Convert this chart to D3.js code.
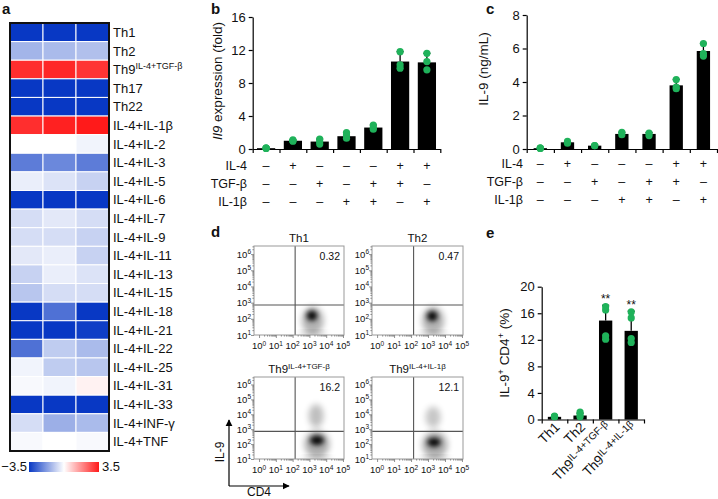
<!DOCTYPE html>
<html><head><meta charset="utf-8">
<script src="https://cdn.jsdelivr.net/npm/d3@7"></script>
<style>
body{margin:0;background:#fff}
svg{display:block}
text{font-family:"Liberation Sans",Arial,Helvetica,sans-serif;fill:#111}
</style>
</head><body>
<svg id="chart" width="718" height="499"></svg>
<script>
// ---------------- DATA ----------------
// Panel a: heatmap (3 replicates, z-score)
const heatRows = ["Th1","Th2","Th9^IL-4+TGF-β","Th17","Th22","IL-4+IL-1β","IL-4+IL-2","IL-4+IL-3","IL-4+IL-5","IL-4+IL-6","IL-4+IL-7","IL-4+IL-9","IL-4+IL-11","IL-4+IL-13","IL-4+IL-15","IL-4+IL-18","IL-4+IL-21","IL-4+IL-22","IL-4+IL-25","IL-4+IL-31","IL-4+IL-33","IL-4+INF-γ","IL-4+TNF"];
const heatRep1 = [-3.5,-1.3,3.2,-3.5,-3.5,3.2,0.0,-2.3,-0.3,-3.5,-0.6,-0.6,-0.4,-0.8,-1.0,-3.5,-3.5,-2.5,-0.2,-0.1,-3.5,-0.6,-0.1];
const heatRep2 = [-3.5,-1.2,3.3,-3.5,-3.5,3.4,0.0,-2.1,-0.5,-3.5,-0.4,-0.6,-0.3,-0.3,-0.6,-2.5,-3.5,-0.9,-0.9,-0.2,-3.5,-1.4,0.0];
const heatRep3 = [-3.5,-1.1,3.1,-3.5,-3.5,3.5,-0.2,-2.3,-0.8,-3.5,-0.6,-0.8,-0.8,-0.5,-0.6,-3.5,-3.4,-1.2,-1.0,0.2,-3.5,-1.2,-0.1];
const heatRange = [-3.5, 3.5];

// Panels b, c: culture conditions
const condNames = ["IL-4","TGF-β","IL-1β"];
const condIL4  = [0,1,0,0,0,1,1];
const condTGFb = [0,0,1,0,1,1,0];
const condIL1b = [0,0,0,1,1,0,1];

// Panel b: Il9 expression (fold)
const il9Mean = [0.1,1.0,0.9,1.55,2.6,10.6,10.5];
const il9SD   = [0.02,0.1,0.3,0.45,0.3,1.2,1.1];
const il9Pts  = [[0.1,0.1,0.1],[0.95,1.0,1.1],[0.6,0.9,1.2],[1.3,1.7,2.0],[2.4,2.6,2.9],[9.8,10.2,11.8],[9.6,10.6,11.6]];
const il9Ticks = [0,4,8,12,16];

// Panel c: IL-9 (ng/mL)
const protMean = [0.05,0.4,0.2,0.9,0.9,3.8,5.85];
const protSD   = [0.01,0.05,0.05,0.1,0.08,0.35,0.45];
const protPts  = [[0.05,0.05,0.05],[0.35,0.45],[0.2,0.2],[0.85,1.0],[0.8,0.95],[3.6,3.7,4.15],[5.55,5.7,6.3]];
const protTicks = [0,2,4,6,8];

// Panel d: flow cytometry
const flowTitles = ["Th1","Th2","Th9^IL-4+TGF-β","Th9^IL-4+IL-1β"];
const flowPct = ["0.32","0.47","16.2","12.1"];
const gateCD4 = 2.15, gateIL9 = 2.85; // log10
const flowDecadesX = [0,1,2,3,4,5];
const flowDecadesY = [1,2,3,4,5,6];
// density components: plot index, log10 CD4, log10 IL-9, spread CD4, spread IL-9, density
const blobPlot   = [0,0,0, 1,1,1, 2,2,2,2, 3,3,3,3];
const blobCD4    = [3.2,3.2,3.15, 3.3,3.3,3.25, 3.45,3.45,3.4,3.45, 3.4,3.4,3.3,3.35];
const blobIL9    = [1.9,1.08,2.2, 1.9,1.08,2.17, 2.0,1.08,3.9,2.25, 1.95,1.08,3.8,2.12];
const blobSprX   = [0.65,0.85,0.32, 0.65,0.85,0.32, 0.75,0.9,0.45,0.42, 0.75,0.9,0.45,0.4];
const blobSprY   = [0.85,0.12,0.32, 0.85,0.12,0.32, 0.9,0.12,0.78,0.33, 0.9,0.12,0.72,0.31];
const blobDens   = [0.3,0.25,0.95, 0.3,0.25,0.95, 0.32,0.25,0.25,0.95, 0.32,0.25,0.22,0.95];

// Panel e: IL-9+ CD4+ (%)
const pctGroups = ["Th1","Th2","Th9^IL-4+TGF-β","Th9^IL-4+IL-1β"];
const pctMean = [0.4,0.6,14.9,13.35];
const pctSD   = [0.1,0.35,2.3,2.95];
const pctPts  = [[0.4,0.5,0.45],[0.4,0.7,1.1],[12.1,12.6,16.5,17.0],[11.6,12.2,15.3,16.2]];
const pctSig  = ["","","**","**"];
const pctTicks = [0,4,8,12,16,20];

// ---------------- DRAWING ----------------
const svg = d3.select("#chart");
const GREEN = "#1fb25a";

function rich(textSel, str, supSize, rise) {
  const parts = str.split("^");
  textSel.append("tspan").text(parts[0]);
  if (parts[1] !== undefined) textSel.append("tspan").attr("font-size", supSize).attr("dy", -rise).text(parts[1]);
}
function panelLetter(ch, x, y) {
  svg.append("text").attr("x", x).attr("y", y).attr("font-size", 15).attr("font-weight", "bold").text(ch);
}

// ---- Panel a ----
panelLetter("a", 2, 14);
const hmX = d3.scaleBand().domain([0,1,2]).range([10,109]);
const hmY = d3.scaleBand().domain(heatRows).range([23,451]);
const hmColor = d3.scaleLinear().domain([heatRange[0],0,heatRange[1]]).range(["#0838c4","#ffffff","#ff1a1a"]);
const reps = [heatRep1, heatRep2, heatRep3];
const gA = svg.append("g");
heatRows.forEach((r,i) => {
  reps.forEach((rep,j) => {
    gA.append("rect").attr("x", hmX(j)).attr("y", hmY(r))
      .attr("width", hmX.bandwidth()).attr("height", hmY.bandwidth())
      .attr("fill", hmColor(rep[i])).attr("stroke", "#fff").attr("stroke-width", 1);
  });
  const t = gA.append("text").attr("x", 113).attr("y", hmY(r) + hmY.bandwidth()/2 + 4.6).attr("font-size", 13);
  rich(t, r, 9, 5);
});
gA.append("rect").attr("x",10).attr("y",23).attr("width",99).attr("height",428)
  .attr("fill","none").attr("stroke","#111").attr("stroke-width",2);
// colour bar
const defs = svg.append("defs");
const grad = defs.append("linearGradient").attr("id","cbar");
d3.range(0,1.0001,0.05).forEach(t => {
  grad.append("stop").attr("offset", t).attr("stop-color", hmColor(heatRange[0] + t*(heatRange[1]-heatRange[0])));
});
const cbX = d3.scaleLinear().domain(heatRange).range([29,99]);
svg.append("rect").attr("x", cbX(heatRange[0])).attr("y", 462).attr("width", cbX(heatRange[1]) - cbX(heatRange[0])).attr("height", 10).attr("fill","url(#cbar)");
svg.append("text").attr("x", cbX(heatRange[0]) - 2).attr("y", 471).attr("text-anchor","end").attr("font-size",13).text("−3.5");
svg.append("text").attr("x", cbX(heatRange[1]) + 3).attr("y", 471).attr("font-size",13).text("3.5");

// ---- bar panel helper ----
function barPanel(o) {
  const g = svg.append("g");
  const n = o.means.length;
  const x = d3.scaleBand().domain(d3.range(n)).range([o.x0, o.x1]);
  const y = d3.scaleLinear().domain([0, o.max]).range([o.y0, o.yTop]);
  const bw = x.bandwidth() * o.barFrac;
  const cx = i => x(i) + x.bandwidth()/2;
  // error bars
  o.means.forEach((m,i) => {
    const top = y(m + o.sds[i]);
    g.append("line").attr("x1", cx(i)).attr("x2", cx(i)).attr("y1", y(m)).attr("y2", top).attr("stroke","#000").attr("stroke-width",1.3);
    g.append("line").attr("x1", cx(i)-3.5).attr("x2", cx(i)+3.5).attr("y1", top).attr("y2", top).attr("stroke","#000").attr("stroke-width",1.3);
  });
  g.selectAll("rect.bar").data(o.means).join("rect").attr("class","bar")
    .attr("x", (d,i) => cx(i) - bw/2).attr("y", d => y(d))
    .attr("width", bw).attr("height", d => y(0) - y(d)).attr("fill","#000");
  // axes
  const ya = g.append("g").attr("transform", `translate(${o.x0},0)`)
    .call(d3.axisLeft(y).tickValues(o.ticks).tickSize(4).tickSizeOuter(0).tickPadding(3));
  const xl = d3.scaleLinear().domain([0,n]).range([o.x0, o.x1]);
  const xa = g.append("g").attr("transform", `translate(0,${o.y0})`)
    .call(d3.axisBottom(xl).tickValues(d3.range(n+1)).tickFormat("").tickSize(4).tickSizeOuter(0));
  [ya, xa].forEach(a => {
    a.attr("font-family", null).attr("font-size", null);
    a.selectAll("path,line").attr("stroke","#000").attr("stroke-width",1.2);
    a.selectAll("text").attr("font-size", o.tickFont || 13).attr("fill","#111");
  });
  // dots
  o.pts.forEach((arr,i) => {
    arr.forEach(v => {
      g.append("circle").attr("cx", cx(i)).attr("cy", y(v)).attr("r", 3.6).attr("fill", GREEN);
    });
  });
  return {g, x, y, cx};
}

function conditionRows(p, labelX, baselines) {
  const conds = [condIL4, condTGFb, condIL1b];
  conds.forEach((c,k) => {
    svg.append("text").attr("x", labelX).attr("y", baselines[k]).attr("text-anchor","end").attr("font-size",12.5).text(condNames[k]);
    c.forEach((v,i) => {
      svg.append("text").attr("x", p.cx(i)).attr("y", baselines[k]).attr("text-anchor","middle").attr("font-size",12.5).attr("fill","#000").text(v ? "+" : "–");
    });
  });
}

// ---- Panel b ----
panelLetter("b", 211, 14);
const pb = barPanel({x0:252.7, x1:440.3, y0:149, yTop:17, max:16, ticks:il9Ticks, means:il9Mean, sds:il9SD, pts:il9Pts, barFrac:0.68});
conditionRows(pb, 247, [170, 188, 206]);
{
  const t = svg.append("text").attr("transform","translate(222,81) rotate(-90)").attr("text-anchor","middle").attr("font-size",13.5);
  t.append("tspan").attr("font-style","italic").text("Il9");
  t.append("tspan").text(" expression (fold)");
}

// ---- Panel c ----
panelLetter("c", 486, 14);
const pc = barPanel({x0:526.7, x1:717, y0:149, yTop:15, max:8, ticks:protTicks, means:protMean, sds:protSD, pts:protPts, barFrac:0.49});
conditionRows(pc, 523, [168, 186, 204]);
svg.append("text").attr("transform","translate(488,69) rotate(-90)").attr("text-anchor","middle").attr("font-size",13.5).text("IL-9 (ng/mL)");

// ---- Panel d: flow plots ----
panelLetter("d", 211, 237);
const flowBoxes = [
  {x0:254, x1:344, y0:246, y1:335},
  {x0:372, x1:463, y0:246, y1:335},
  {x0:254, x1:344, y0:377, y1:459},
  {x0:372, x1:463, y0:377, y1:459}
];
defs.append("filter").attr("id","blurA").attr("x","-50%").attr("y","-50%").attr("width","200%").attr("height","200%")
  .append("feGaussianBlur").attr("stdDeviation", 3.4);
defs.append("filter").attr("id","blurB").attr("x","-50%").attr("y","-50%").attr("width","200%").attr("height","200%")
  .append("feGaussianBlur").attr("stdDeviation", 2.6);

flowBoxes.forEach((b, p) => {
  const g = svg.append("g");
  const x = d3.scaleLinear().domain([-0.3, 5.06]).range([b.x0, b.x1]);
  const y = d3.scaleLinear().domain([1, 6.5]).range([b.y1, b.y0]);
  defs.append("clipPath").attr("id","clip"+p).append("rect").attr("x",b.x0).attr("y",b.y0).attr("width",b.x1-b.x0).attr("height",b.y1-b.y0);
  const dg = g.append("g").attr("clip-path",`url(#clip${p})`);
  blobPlot.forEach((bp,k) => {
    if (bp !== p) return;
    const rx = Math.abs(x(blobCD4[k] + blobSprX[k]) - x(blobCD4[k]));
    const ry = Math.abs(y(blobIL9[k] + blobSprY[k]) - y(blobIL9[k]));
    dg.append("ellipse").attr("cx", x(blobCD4[k])).attr("cy", y(blobIL9[k]))
      .attr("rx", rx).attr("ry", ry).attr("fill","#000").attr("opacity", blobDens[k])
      .attr("filter", blobDens[k] > 0.5 ? "url(#blurB)" : "url(#blurA)");
  });
  // quadrant gates
  g.append("line").attr("x1", x(gateCD4)).attr("x2", x(gateCD4)).attr("y1", b.y0).attr("y2", b.y1).attr("stroke","#555").attr("stroke-width",1.1);
  g.append("line").attr("x1", b.x0).attr("x2", b.x1).attr("y1", y(gateIL9)).attr("y2", y(gateIL9)).attr("stroke","#555").attr("stroke-width",1.1);
  g.append("rect").attr("x",b.x0).attr("y",b.y0).attr("width",b.x1-b.x0).attr("height",b.y1-b.y0).attr("fill","none").attr("stroke","#999").attr("stroke-width",1);
  // axes with minor ticks
  const minorX = [], minorY = [];
  flowDecadesX.forEach(d => { for (let m=2;m<10;m++){ const v=d+Math.log10(m); if (v<=5.06) minorX.push(v);} });
  flowDecadesY.forEach(d => { for (let m=2;m<10;m++){ const v=d+Math.log10(m); if (v<=6.5) minorY.push(v);} });
  const ax = g.append("g").attr("transform",`translate(0,${b.y1})`).call(d3.axisBottom(x).tickValues(flowDecadesX).tickFormat("").tickSize(3).tickSizeOuter(0));
  const axm = g.append("g").attr("transform",`translate(0,${b.y1})`).call(d3.axisBottom(x).tickValues(minorX).tickFormat("").tickSize(1.6).tickSizeOuter(0));
  const ay = g.append("g").attr("transform",`translate(${b.x0},0)`).call(d3.axisLeft(y).tickValues(flowDecadesY).tickFormat("").tickSize(3).tickSizeOuter(0));
  const aym = g.append("g").attr("transform",`translate(${b.x0},0)`).call(d3.axisLeft(y).tickValues(minorY).tickFormat("").tickSize(1.6).tickSizeOuter(0));
  [ax,axm,ay,aym].forEach(a => { a.select(".domain").remove(); a.selectAll("line").attr("stroke","#777").attr("stroke-width",0.8); });
  flowDecadesX.forEach(d => {
    const t = g.append("text").attr("x", x(d)).attr("y", b.y1 + 14).attr("text-anchor","middle").attr("font-size",9.5);
    rich(t, "10^" + d, 6.5, 3.5);
  });
  flowDecadesY.forEach(d => {
    const t = g.append("text").attr("x", b.x0 - 3).attr("y", y(d) + 3.5).attr("text-anchor","end").attr("font-size",9.5);
    rich(t, "10^" + d, 6.5, 3.5);
  });
  const tt = g.append("text").attr("x", (b.x0+b.x1)/2).attr("y", b.y0 - 4).attr("text-anchor","middle").attr("font-size",11.5);
  rich(tt, flowTitles[p], 8, 4);
  g.append("text").attr("x", b.x1 - 4).attr("y", b.y0 + 14).attr("text-anchor","end").attr("font-size",10.5).text(flowPct[p]);
});
// axis arrows
defs.append("marker").attr("id","arrow").attr("viewBox","0 0 10 10").attr("refX",9).attr("refY",5)
  .attr("markerWidth",6).attr("markerHeight",6).attr("orient","auto")
  .append("path").attr("d","M0,0 L10,5 L0,10 z").attr("fill","#000");
svg.append("line").attr("x1",229).attr("y1",486).attr("x2",229).attr("y2",420).attr("stroke","#000").attr("stroke-width",1.2).attr("marker-end","url(#arrow)");
svg.append("line").attr("x1",229).attr("y1",486).attr("x2",289).attr("y2",486).attr("stroke","#000").attr("stroke-width",1.2).attr("marker-end","url(#arrow)");
svg.append("text").attr("transform","translate(224,452) rotate(-90)").attr("text-anchor","middle").attr("font-size",12).text("IL-9");
svg.append("text").attr("x",259).attr("y",496).attr("text-anchor","middle").attr("font-size",12).text("CD4");

// ---- Panel e ----
panelLetter("e", 486, 238);
const pe = barPanel({x0:541.7, x1:644, y0:419.5, yTop:286.7, max:20, ticks:pctTicks, means:pctMean, sds:pctSD, pts:pctPts, barFrac:0.52});
pctGroups.forEach((gname,i) => {
  const t = svg.append("text").attr("transform", `translate(${pe.cx(i)+6},${428}) rotate(-45)`).attr("text-anchor","end").attr("font-size",13.5);
  rich(t, gname, 10, 4.5);
  if (pctSig[i]) svg.append("text").attr("x", pe.cx(i)).attr("y", pe.y(pctMean[i]+pctSD[i]) - 2).attr("text-anchor","middle").attr("font-size",12).text(pctSig[i]);
});
{
  const t = svg.append("text").attr("transform","translate(509,353) rotate(-90)").attr("text-anchor","middle").attr("font-size",13.5);
  t.append("tspan").text("IL-9");
  t.append("tspan").attr("font-size",9).attr("dy",-5).text("+");
  t.append("tspan").attr("dy",5).text(" CD4");
  t.append("tspan").attr("font-size",9).attr("dy",-5).text("+");
  t.append("tspan").attr("dy",5).text(" (%)");
}
</script>
</body></html>
